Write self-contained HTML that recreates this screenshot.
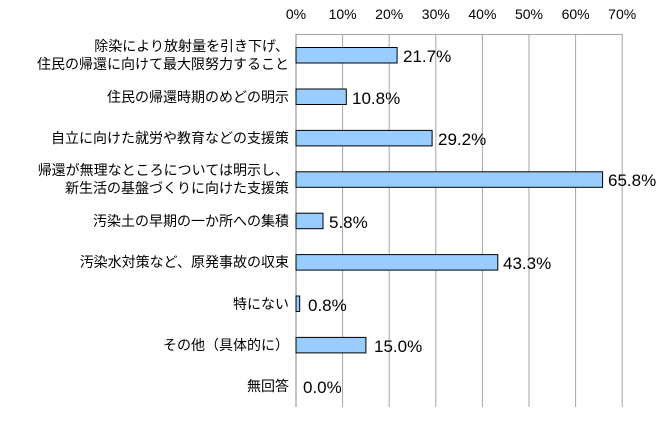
<!DOCTYPE html>
<html><head><meta charset="utf-8"><style>
body{margin:0;background:#fff;}
svg text{font-family:"Liberation Sans","Noto Sans CJK JP",sans-serif;fill:#000;}
</style></head><body>
<svg width="670" height="416" xmlns="http://www.w3.org/2000/svg">
<g font-size="14" text-anchor="middle">
<text x="296" y="19">0%</text><text x="342.6" y="19">10%</text><text x="389.2" y="19">20%</text><text x="435.8" y="19">30%</text><text x="482.4" y="19">40%</text><text x="529" y="19">50%</text><text x="575.6" y="19">60%</text><text x="622.2" y="19">70%</text>
</g>
<g stroke="#a6a6a6" stroke-width="1">
<line x1="342.6" y1="34" x2="342.6" y2="407"/><line x1="389.2" y1="34" x2="389.2" y2="407"/><line x1="435.8" y1="34" x2="435.8" y2="407"/><line x1="482.4" y1="34" x2="482.4" y2="407"/><line x1="529" y1="34" x2="529" y2="407"/><line x1="575.6" y1="34" x2="575.6" y2="407"/><line x1="622.2" y1="34" x2="622.2" y2="407"/>
<line x1="296" y1="34.5" x2="622.2" y2="34.5"/>
<line x1="296" y1="34" x2="296" y2="407" stroke="#868686"/>
</g>
<g fill="#99ccff" stroke="#000" stroke-width="1">
<rect x="296" y="47.5" width="101.1" height="15.5"/>
<rect x="296" y="89" width="50.3" height="15.5"/>
<rect x="296" y="130.4" width="136.1" height="15.5"/>
<rect x="296" y="171.8" width="306.6" height="15.5"/>
<rect x="296" y="213.2" width="27" height="15.5"/>
<rect x="296" y="254.6" width="201.8" height="15.5"/>
<rect x="296" y="296" width="3.7" height="15.5"/>
<rect x="296" y="337.4" width="69.9" height="15.5"/>
</g>
<g font-size="17">
<text x="403" y="62">21.7%</text>
<text x="352" y="104">10.8%</text>
<text x="438" y="145">29.2%</text>
<text x="608" y="186">65.8%</text>
<text x="329" y="228">5.8%</text>
<text x="503" y="269">43.3%</text>
<text x="308" y="311">0.8%</text>
<text x="374" y="352">15.0%</text>
<text x="303" y="393">0.0%</text>
</g>
<g font-size="14" text-anchor="end">
<text x="289" y="51">除染により放射量を引き下げ、</text>
<text x="289" y="69">住民の帰還に向けて最大限努力すること</text>
<text x="289" y="102">住民の帰還時期のめどの明示</text>
<text x="289" y="143">自立に向けた就労や教育などの支援策</text>
<text x="289" y="175">帰還が無理なところについては明示し、</text>
<text x="289" y="193">新生活の基盤づくりに向けた支援策</text>
<text x="289" y="226">汚染土の早期の一か所への集積</text>
<text x="289" y="267">汚染水対策など、原発事故の収束</text>
<text x="289" y="309">特にない</text>
<text x="289" y="350">その他（具体的に）</text>
<text x="289" y="391">無回答</text>
</g>
</svg>
</body></html>
